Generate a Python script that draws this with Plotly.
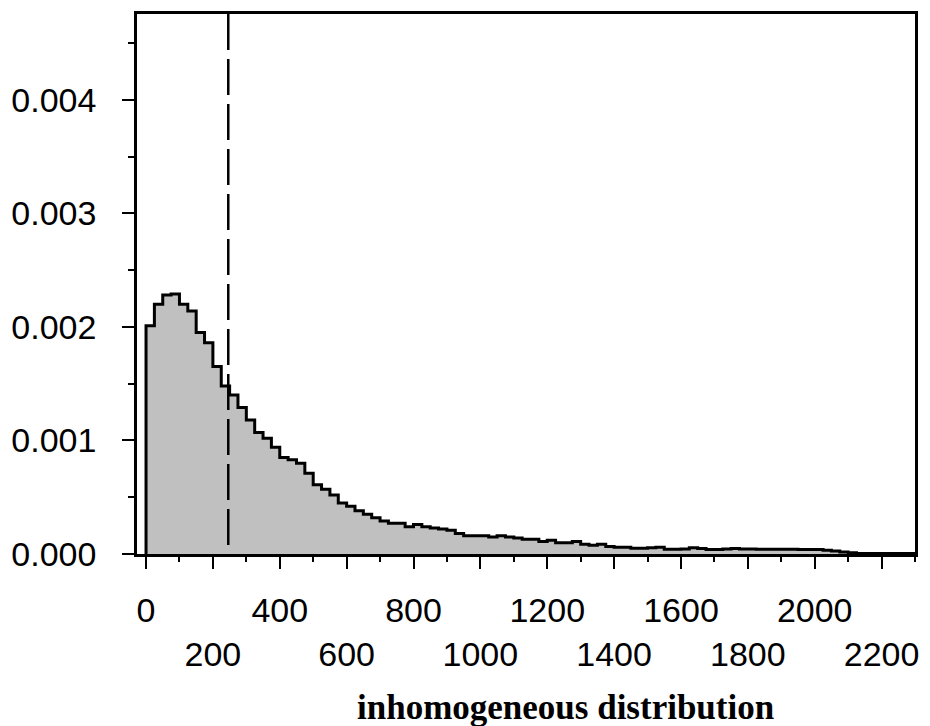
import numpy as np
import plotly.graph_objects as go

# ---- data ----
bin_start = 0
bin_width = 25
density = [
    0.00201, 0.00220, 0.00228, 0.00229, 0.00220, 0.00214, 0.00195, 0.00186,
    0.00165, 0.00148, 0.00140, 0.00129, 0.00118, 0.00107, 0.00102, 0.00094,
    0.00085, 0.00083, 0.00080, 0.00071, 0.00061, 0.00057, 0.00052, 0.00045,
    0.00042, 0.00038, 0.00035, 0.00032, 0.00029, 0.00027, 0.00027, 0.00024,
    0.00026, 0.00024, 0.00023, 0.00022, 0.00021, 0.00018, 0.00016, 0.00016,
    0.00016, 0.00015, 0.00016, 0.00015, 0.00014, 0.00013, 0.00013, 0.00011,
    0.00012, 0.00010, 0.00010, 0.00011, 0.000086, 0.000077, 0.000086, 0.000066,
    0.000060, 0.000060, 0.000051, 0.000051, 0.000054, 0.000060, 0.000042, 0.000042,
    0.000045, 0.000054, 0.000048, 0.000039, 0.000039, 0.000045, 0.000048, 0.000045,
    0.000045, 0.000042, 0.000042, 0.000042, 0.000042, 0.000042, 0.000039, 0.000039,
    0.000039, 0.000033, 0.000027, 0.000018, 0.000010, 0.000004, 0.000004, 0.000004,
    0.000004, 0.000004, 0.000004, 0.000004,
]
threshold = 246
x_tick_values = [0, 200, 400, 600, 800, 1000, 1200, 1400, 1600, 1800, 2000, 2200]
x_tick_labels = ["0", "200", "400", "600", "800", "1000", "1200", "1400",
                 "1600", "1800", "2000", "2200"]
y_tick_values = [0.000, 0.001, 0.002, 0.003, 0.004]
y_tick_labels = ["0.000", "0.001", "0.002", "0.003", "0.004"]
x_title = "inhomogeneous distribution"

# ---- build step outline ----
edges = bin_start + bin_width * np.arange(len(density) + 1)
xs = [edges[0]] + list(edges)
ys = [0] + list(density) + [density[-1]]

# staggered tick labels: every second label on a lower row
staggered = [t if i % 2 == 0 else "<br>" + t for i, t in enumerate(x_tick_labels)]

fig = go.Figure()
fig.add_trace(go.Scatter(
    x=xs, y=ys, mode="lines", line=dict(shape="hv", color="black", width=3),
    fill="tozeroy", fillcolor="#c0c0c0", hoverinfo="skip", showlegend=False,
))
fig.add_shape(type="line", x0=threshold, x1=threshold, xref="x", y0=1, y1=0,
              yref="paper", line=dict(color="black", width=2.5, dash="36px,9px"))

tick_font = dict(family="Liberation Sans, Arial, sans-serif", size=34, color="black")

fig.update_layout(
    width=930, height=726,
    margin=dict(l=133, r=12, t=11, b=172),
    paper_bgcolor="white", plot_bgcolor="white",
    showlegend=False,
    xaxis=dict(
        range=[-27, 2300], showgrid=False, zeroline=False,
        showline=True, mirror=True, linecolor="black", linewidth=2.5,
        tickmode="array", tickvals=x_tick_values, ticktext=staggered,
        tickangle=0,
        ticks="outside", ticklen=12, tickwidth=1.5, tickcolor="black",
        minor=dict(dtick=100, ticks="outside", ticklen=5, tickwidth=1.5,
                   tickcolor="black", showgrid=False),
        tickfont=tick_font, ticklabelstandoff=12,
    ),
    yaxis=dict(
        range=[0, 0.004755], showgrid=False, zeroline=False,
        showline=True, mirror=True, linecolor="black", linewidth=2.5,
        tickmode="array", tickvals=y_tick_values, ticktext=y_tick_labels,
        ticks="outside", ticklen=12, tickwidth=1.5, tickcolor="black",
        minor=dict(dtick=0.0005, ticks="outside", ticklen=6, tickwidth=1.5,
                   tickcolor="black", showgrid=False),
        tickfont=tick_font, ticklabelstandoff=19,
    ),
    annotations=[dict(
        text="<b>" + x_title + "</b>", xref="paper", yref="paper",
        x=(565 - 133) / (918 - 133), y=-(708 - 554) / (554 - 11),
        xanchor="center", yanchor="middle", showarrow=False,
        font=dict(family="Liberation Serif, Times New Roman, serif", size=35, color="black"),
    )],
)

fig.write_html("out.html")
